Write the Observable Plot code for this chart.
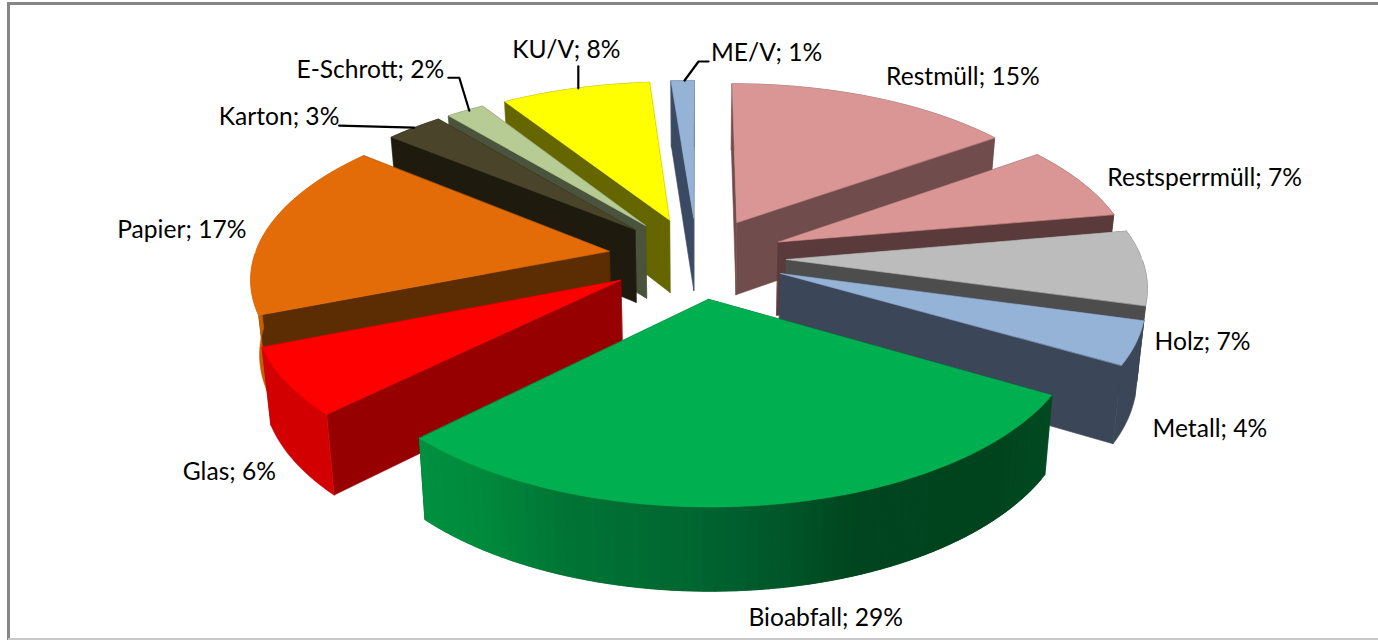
<!DOCTYPE html>
<html><head><meta charset="utf-8">
<script src="https://cdn.jsdelivr.net/npm/d3@7"></script>
<script src="https://cdn.jsdelivr.net/npm/@observablehq/plot@0.6"></script>
<style>html,body{margin:0;padding:0;background:#fff}svg{display:block}</style>
</head><body><div id="chart"></div>
<script>
// Data, clockwise from 12 o'clock
const categories = ["Restmüll","Restsperrmüll","Holz","Metall","Bioabfall","Glas","Papier","Karton","E-Schrott","KU/V","ME/V"];
const shares     = [15,7,7,4,29,6.3,16.7,3,2,7.8,1.2];
const percents   = [15,7,7,4,29,6,17,3,2,8,1];           // as printed on the labels
const topColors  = ["#d99694","#d99694","#bcbcbc","#95b3d7","#00b050","#ff0000","#e36c09","#4a452a","#b7cb94","#ffff00","#95b3d7"];
const cutColors  = ["#704d4c","#5a3a3a","#4d4d4d","#3b4658","#00451f","#960000","#5c2d02","#1e1b0e","#4a533b","#666600","#3b4a63"];
const rimColors  = ["#704d4c","#5a3a3a","#4d4d4d","#3b4658","#00451f","#d20000","#c46000","#1e1b0e","#4a533b","#666600","#3b4a63"];
const bioRimX     = [424,480,560,700,780,835,860,1000,1050];
const bioRimColor = ["#00903f","#008a3c","#007535","#006530","#00562a","#004a20","#00451f","#00441e","#004a20"];
const drawOrder  = ["Restmüll","Restsperrmüll","Holz","Metall","ME/V","KU/V","E-Schrott","Karton","Papier","Glas","Bioabfall"];
// label centre, relative to the slice's rim midpoint
const labelShift = [[89,-20],[123,-4],[58,75],[74,86],[61,113],[-57,90],[-87,3],[-135,-11],[-95,-41],[-9,-38],[84,-27]];
// leader lines, relative to the slice's rim midpoint
const leaders = {
  "Karton":[[0,0],[-75,-2]],
  "E-Schrott":[[4,0],[-6,-33],[-17,-33]],
  "KU/V":[[3,0],[3,-22]],
  "ME/V":[[2,0],[16,-19],[26,-19]]
};

// View model of the tilted, exploded pie
const O = {x:696.5,y:257,A:355,B:166.5,p:0.137,explodeU:0.252,explodeV:0.245,depth:74,shrink:0.98};
const total = d3.sum(shares);
const rad = d => d*Math.PI/180;
let acc = 0;
const slices = categories.map((name,i)=>{
  const a0 = acc/total*360; acc += shares[i]; const a1 = acc/total*360;
  return {name,i,a0,a1,mid:(a0+a1)/2};
});
function project(s,theta,r,lower){
  const m = rad(s.mid), t = rad(theta);
  const u = O.explodeU*Math.sin(m)+r*Math.sin(t);
  const v = -O.explodeV*Math.cos(m)-r*Math.cos(t);
  const w = 1/(1-O.p*v);
  let X = O.x+O.A*u*w, Y = O.y+O.B*v*w;
  if(lower){ X = O.x+(X-O.x)*O.shrink; Y += O.depth*Math.pow(w,0.7); }
  return [X,Y];
}
const bioRim = d3.scaleLinear().domain(bioRimX).range(bioRimColor).clamp(true);
const polys = [];
let pid = 0;
function add(pts,fill){const id=pid++; pts.forEach(p=>polys.push({id,X:p[0],Y:p[1],fill}));}
function band(s,ths,fill){
  add([...ths.map(t=>project(s,t,1)),...ths.slice().reverse().map(t=>project(s,t,1,true))],fill);
}
drawOrder.forEach(n=>{
  const s = slices.find(d=>d.name===n);
  const steps = Math.max(4,Math.ceil((s.a1-s.a0)/1.5));
  const th = d3.range(steps+1).map(k=>s.a0+(s.a1-s.a0)*k/steps);
  const isFront = t => Math.cos(rad(t))<0;
  // rim facing away, then cut faces, then rim facing the viewer, then the top
  const back = th.filter(t=>!isFront(t)), front = th.filter(isFront);
  if(back.length>1) band(s,back,rimColors[s.i]);
  [s.a0,s.a1].forEach(t=>{
    add([project(s,t,0),project(s,t,1),project(s,t,1,true),project(s,t,0,true)],cutColors[s.i]);
  });
  if(front.length>1){
    if(n==="Bioabfall"){
      for(let k=0;k<front.length-1;k++){
        const run = front.slice(k,k+3);
        const mx = project(s,front[k],1)[0]/2+project(s,front[k+1],1)[0]/2;
        band(s,run,bioRim(mx));
      }
    } else band(s,front,rimColors[s.i]);
  }
  add([project(s,s.a0,0),...th.map(t=>project(s,t,1))],topColors[s.i]);
});

const labelRows = slices.map(s=>{
  const [X,Y] = project(s,s.mid,1);
  return {X:X+labelShift[s.i][0],Y:Y+labelShift[s.i][1],text:`${s.name}; ${percents[s.i]}%`};
});
const leaderRows = slices.flatMap(s=>{
  const [X,Y] = project(s,s.mid,1);
  return (leaders[s.name]||[]).map(d=>({name:s.name,X:X+d[0],Y:Y+d[1]}));
});
const frameColor = "#868686";
const chart = Plot.plot({
  width:1378,height:640,margin:0,
  x:{domain:[0,1378],range:[0,1378],axis:null},
  y:{domain:[0,640],range:[0,640],axis:null},
  marks:[
    Plot.ruleY([3],{x1:7,x2:1378,stroke:frameColor,strokeWidth:3}),
    Plot.ruleX([8],{y1:2,y2:640,stroke:frameColor,strokeWidth:3}),
    Plot.ruleY([638.5],{x1:8,x2:1378,stroke:"#c8c8c8",strokeWidth:2}),
    Plot.line(polys,{x:"X",y:"Y",z:"id",fill:"fill",stroke:"fill",strokeWidth:0.6,curve:"linear-closed"}),
    Plot.line(leaderRows,{x:"X",y:"Y",z:"name",stroke:"#000",strokeWidth:2.2,curve:"linear"}),
    Plot.text(labelRows,{x:"X",y:"Y",text:"text",fontSize:24.6,fontFamily:"Lato",fill:"#000",textAnchor:"middle",lineAnchor:"middle"})
  ]
});
document.getElementById("chart").append(chart);
</script></body></html>
